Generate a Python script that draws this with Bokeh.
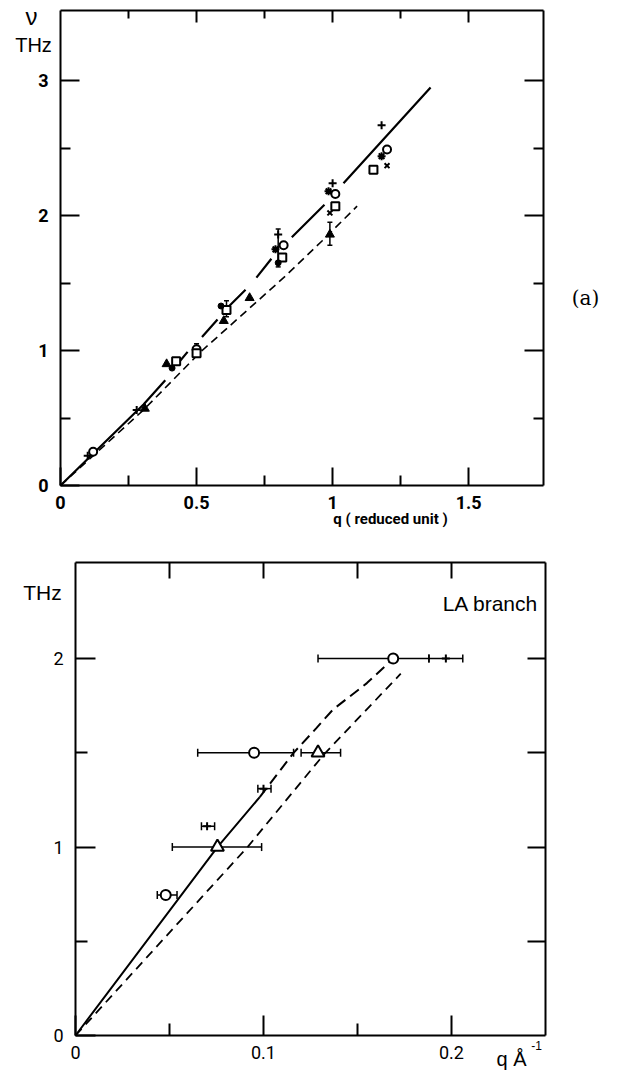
from bokeh.plotting import figure
from bokeh.models import (LinearAxis, FixedTicker, Label, Whisker, ColumnDataSource,
                          Range1d, TeeHead)
from bokeh.layouts import column
from bokeh.embed import file_html
from bokeh.resources import INLINE

nan = float("nan")

# ---------------- panel (a): nu (THz) vs q (reduced unit) ----------------
a_solid_q = [0, 0.305, 0.385, nan, 0.43, 0.467, nan, 0.52, 0.577, nan, 0.62, 0.68, nan,
             0.72, 0.775, nan, 0.85, 0.97, nan, 1.04, 1.36]
a_solid_nu = [0, 0.60, 0.78, nan, 0.90, 0.99, nan, 1.10, 1.23, nan, 1.33, 1.45, nan,
              1.54, 1.68, nan, 1.84, 2.08, nan, 2.24, 2.95]
a_dash_q = [0, 0.305, 0.515, 0.82, 0.96, 1.09]
a_dash_nu = [0, 0.56, 0.99, 1.54, 1.81, 2.07]

a_circle_q = [0.12, 0.50, 0.82, 1.01, 1.20]
a_circle_nu = [0.25, 1.01, 1.78, 2.16, 2.49]
a_square_q = [0.425, 0.50, 0.61, 0.815, 1.01, 1.15]
a_square_nu = [0.92, 0.98, 1.30, 1.69, 2.07, 2.34]
a_tri_q = [0.31, 0.39, 0.60, 0.695, 0.99]
a_tri_nu = [0.57, 0.90, 1.22, 1.39, 1.86]
a_dot_q = [0.41, 0.59, 0.80]
a_dot_nu = [0.87, 1.33, 1.65]
a_plus_q = [0.10, 0.28, 0.80, 1.00, 1.18]
a_plus_nu = [0.22, 0.56, 1.86, 2.24, 2.67]
a_star_q = [0.79, 0.985, 1.18]
a_star_nu = [1.75, 2.18, 2.44]
a_x_q = [0.99, 1.20]
a_x_nu = [2.02, 2.37]
a_err_q = [0.50, 0.61, 0.99, 0.80]
a_err_lo = [0.95, 1.25, 1.78, 1.62]
a_err_hi = [1.05, 1.37, 1.95, 1.90]

# ---------------- panel (b): LA branch, nu (THz) vs q (1/Angstrom) ----------------
b_curve1_solid_q = [0, 0.0755, 0.098]
b_curve1_solid_nu = [0, 1.0, 1.265]
b_curve1_dash_q = [0.098, 0.116, 0.128, 0.137, 0.155, 0.169]
b_curve1_dash_nu = [1.265, 1.50, 1.63, 1.73, 1.87, 2.0]
b_curve2_q = [0, 0.0915, 0.132, 0.173]
b_curve2_nu = [0, 1.0, 1.49, 1.92]

b_circle_q = [0.169, 0.095, 0.048]
b_circle_nu = [2.0, 1.5, 0.745]
b_circle_lo = [0.129, 0.065, 0.0435]
b_circle_hi = [0.188, 0.116, 0.054]
b_tri_q = [0.129, 0.0755]
b_tri_nu = [1.5, 1.0]
b_tri_lo = [0.120, 0.0515]
b_tri_hi = [0.141, 0.099]
b_plus_q = [0.197, 0.100, 0.070]
b_plus_nu = [2.0, 1.31, 1.11]
b_plus_lo = [0.188, 0.097, 0.067]
b_plus_hi = [0.206, 0.104, 0.074]

a_xticks = [0, 0.5, 1, 1.5]
a_xminor = [0.25, 0.75, 1.25]
a_yticks = [0, 1, 2, 3]
a_yminor = [0.5, 1.5, 2.5]
b_xticks = [0, 0.1, 0.2]
b_xminor = [0.05, 0.15]
b_yticks = [0, 1, 2]
b_yminor = [0.5, 1.5]

TICKFONT = "Roboto"
TXTFONT = "Liberation Sans"


def make_fig(W, H, box, qmax, numax):
    """box = (left, top, right, bottom) pixel position of the axes box inside the canvas."""
    L, T, R, B = box
    sx = (R - L) / qmax
    sy = (B - T) / numax
    xr = Range1d(-L / sx, (W - L) / sx)
    yr = Range1d(-(H - B) / sy, (B) / sy)
    p = figure(width=W, height=H, x_range=xr, y_range=yr, output_backend="svg",
               toolbar_location=None, x_axis_location=None, y_axis_location=None,
               min_border=0, min_border_left=0, min_border_right=0,
               min_border_top=0, min_border_bottom=0)
    p.outline_line_color = None
    p.grid.visible = False
    p.background_fill_color = "white"
    p.border_fill_color = "white"
    return p


def add_axis(p, side, loc, bounds, major, minor, tin, tmin, labels=None, bold=True,
             fsize="18px", standoff=9):
    ax = LinearAxis(fixed_location=loc, bounds=bounds,
                    ticker=FixedTicker(ticks=major, minor_ticks=minor))
    ax.major_tick_in = tin
    ax.major_tick_out = 0
    ax.minor_tick_in = tmin
    ax.minor_tick_out = 0
    ax.major_tick_line_width = 2
    ax.minor_tick_line_width = 2
    ax.axis_line_width = 2
    ax.axis_line_color = "black"
    if labels is None:
        ax.major_label_text_color = None
    else:
        ax.major_label_overrides = labels
        ax.major_label_text_color = "black"
        ax.major_label_text_font = TICKFONT
        ax.major_label_text_font_size = fsize
        ax.major_label_text_font_style = "bold" if bold else "normal"
        ax.major_label_standoff = standoff
    p.add_layout(ax, side)
    return ax


def text(p, sx, sy, s, font, size, style="normal", align="center", baseline="middle"):
    p.add_layout(Label(x=sx, y=sy, x_units="screen", y_units="screen", text=s,
                       text_font=font, text_font_size=size, text_font_style=style,
                       text_align=align, text_baseline=baseline, text_color="black"))


# ---------- figure (a) ----------
W1, H1 = 615, 530
QA, NA = 1.775, 3.52
p1 = make_fig(W1, H1, (60, 10, 543, 485), QA, NA)
add_axis(p1, "below", 0, (0, QA), a_xticks, a_xminor, 18, 10,
         labels={0: "0", 0.5: "0.5", 1: "1", 1.5: "1.5"}, standoff=10)
add_axis(p1, "left", 0, (0, NA), a_yticks, a_yminor, 19, 10,
         labels={0: "0", 1: "1", 2: "2", 3: "3"}, standoff=12)
add_axis(p1, "above", NA, (0, QA), [0.5, 1.0, 1.5], a_xminor, 12, 8)
add_axis(p1, "right", QA, (0, NA), [1, 2, 3], a_yminor, 19, 10)

p1.line(a_solid_q, a_solid_nu, line_color="black", line_width=2.2)
p1.line(a_dash_q, a_dash_nu, line_color="black", line_width=1.6, line_dash="8 5")

errA = ColumnDataSource(dict(x=a_err_q, lo=a_err_lo, hi=a_err_hi))
p1.add_layout(Whisker(source=errA, base="x", lower="lo", upper="hi", dimension="height",
                      line_color="black", line_width=1.5,
                      upper_head=TeeHead(size=5, line_width=1.5, line_color="black"),
                      lower_head=TeeHead(size=5, line_width=1.5, line_color="black")))

p1.scatter(a_circle_q, a_circle_nu, marker="circle", size=8, fill_color="white",
           line_color="black", line_width=2)
p1.scatter(a_square_q, a_square_nu, marker="square", size=8, fill_color="white",
           line_color="black", line_width=2)
p1.scatter(a_tri_q, a_tri_nu, marker="triangle", size=9, fill_color="black",
           line_color="black")
p1.scatter(a_dot_q, a_dot_nu, marker="circle", size=6, fill_color="black",
           line_color="black")
p1.scatter(a_plus_q, a_plus_nu, marker="cross", size=8, line_color="black", line_width=2)
p1.scatter(a_star_q, a_star_nu, marker="asterisk", size=8, line_color="black", line_width=2)
p1.scatter(a_x_q, a_x_nu, marker="x", size=7, line_color="black", line_width=2)

text(p1, 31, 514, "ν", TXTFONT, "24px")
text(p1, 33, 486, "THz", TXTFONT, "20px")
text(p1, 390, 12, "q ( reduced unit )", TICKFONT, "15px", style="bold")
text(p1, 585, 233, "(a)", "DejaVu Serif", "20px")

# ---------- figure (b) ----------
W2, H2 = 615, 546
QB, NB = 0.25, 2.51
p2 = make_fig(W2, H2, (75, 32, 545, 505), QB, NB)
add_axis(p2, "below", 0, (0, QB), b_xticks, b_xminor, 20, 12,
         labels={0: "0", 0.1: "0.1", 0.2: "0.2"}, bold=False, standoff=10)
add_axis(p2, "left", 0, (0, NB), b_yticks, b_yminor, 20, 12,
         labels={0: "0", 1: "1", 2: "2"}, bold=False, standoff=12)
add_axis(p2, "above", NB, (0, QB), [0.05, 0.1, 0.15, 0.2], [], 16, 10)
add_axis(p2, "right", QB, (0, NB), [0.5, 1, 1.5, 2], [], 18, 10)

p2.line(b_curve1_solid_q, b_curve1_solid_nu, line_color="black", line_width=2)
p2.line(b_curve1_dash_q, b_curve1_dash_nu, line_color="black", line_width=2,
        line_dash="11 6")
p2.line(b_curve2_q, b_curve2_nu, line_color="black", line_width=1.8, line_dash="9 6")

for qs, nus, lo, hi in ((b_circle_q, b_circle_nu, b_circle_lo, b_circle_hi),
                        (b_tri_q, b_tri_nu, b_tri_lo, b_tri_hi),
                        (b_plus_q, b_plus_nu, b_plus_lo, b_plus_hi)):
    src = ColumnDataSource(dict(y=nus, lo=lo, hi=hi))
    p2.add_layout(Whisker(source=src, base="y", lower="lo", upper="hi", dimension="width",
                          line_color="black", line_width=1.5,
                          upper_head=TeeHead(size=8, line_width=1.5, line_color="black"),
                          lower_head=TeeHead(size=8, line_width=1.5, line_color="black")))

p2.scatter(b_circle_q, b_circle_nu, marker="circle", size=10, fill_color="white",
           line_color="black", line_width=2)
p2.scatter(b_tri_q, b_tri_nu, marker="triangle", size=13, fill_color="white",
           line_color="black", line_width=2)
p2.scatter(b_plus_q, b_plus_nu, marker="cross", size=8, line_color="black", line_width=2)

text(p2, 42, 484, "THz", TXTFONT, "21px")
text(p2, 490, 473, "LA branch", TXTFONT, "21px")
text(p2, 511, 18, "q Å", TXTFONT, "20px")
text(p2, 536, 31, "-1", TXTFONT, "12px")

layout = column(p1, p2)
open("out.html", "w").write(file_html(layout, INLINE))
